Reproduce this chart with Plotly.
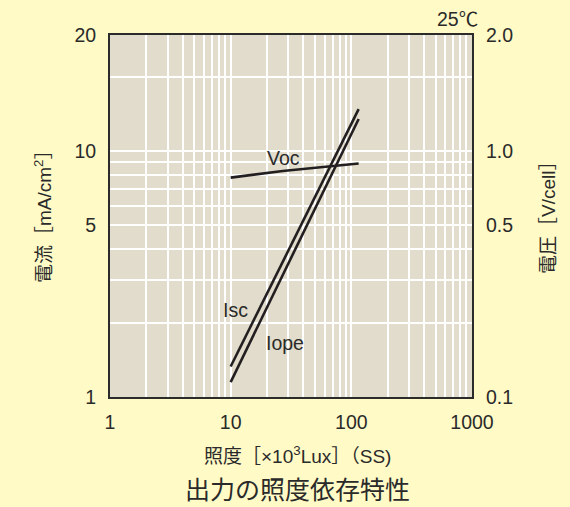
import plotly.graph_objects as go

# ---- data ----
illum_isc = [10, 115]
isc = [1.33, 14.8]
illum_iope = [10, 115]
iope = [1.15, 13.5]
illum_voc = [10, 27, 115]
voc = [0.78, 0.83, 0.89]

x_tickvals = [1, 2, 3, 4, 5, 6, 7, 8, 9,
              10, 20, 30, 40, 50, 60, 70, 80, 90,
              100, 200, 300, 400, 500, 600, 700, 800, 900, 1000]
x_ticktext = ["1"] + [""] * 8 + ["10"] + [""] * 8 + ["100"] + [""] * 8 + ["1000"]

y_tickvals = [1, 2, 3, 4, 5, 6, 7, 8, 9, 10, 20, 29.65]
y_ticktext = ["1", "", "", "", "5", "", "", "", "", "10", "", "20"]

y2_tickvals = [0.1, 0.5, 1.0, 2.965]
y2_ticktext = ["0.1", "0.5", "1.0", "2.0"]

FONT = "Liberation Sans, Arial, Noto Sans CJK JP"
TXT = "#2a2a2a"
LINE = "#231f20"
TICK_SIZE = 19.5

fig = go.Figure()
fig.add_trace(go.Scatter(x=illum_isc, y=isc, mode="lines",
                         line=dict(color=LINE, width=2.6), showlegend=False, hoverinfo="skip"))
fig.add_trace(go.Scatter(x=illum_iope, y=iope, mode="lines",
                         line=dict(color=LINE, width=2.6), showlegend=False, hoverinfo="skip"))
fig.add_trace(go.Scatter(x=illum_voc, y=voc, mode="lines", yaxis="y2",
                         line=dict(color=LINE, width=2.6), showlegend=False, hoverinfo="skip"))

fig.update_layout(
    width=570, height=507,
    margin=dict(l=110, r=98, t=35, b=110),
    paper_bgcolor="#fffac6",
    plot_bgcolor="#e1dccb",
    font=dict(family=FONT, size=TICK_SIZE, color=TXT),
    xaxis=dict(type="log", range=[0, 3], tickvals=x_tickvals, ticktext=x_ticktext,
               showgrid=True, gridcolor="#ffffff", gridwidth=1.5,
               showline=True, mirror=True, linecolor="#2b2b2b", linewidth=2,
               ticks="", ticklabelstandoff=7, zeroline=False),
    yaxis=dict(type="log", range=[0, 1.472], tickvals=y_tickvals, ticktext=y_ticktext,
               showgrid=True, gridcolor="#ffffff", gridwidth=1.5,
               showline=True, mirror=True, linecolor="#2b2b2b", linewidth=2,
               ticks="", ticklabelstandoff=8, zeroline=False),
    yaxis2=dict(type="log", range=[-1, 0.472], overlaying="y", side="right",
                tickvals=y2_tickvals, ticktext=y2_ticktext, showgrid=False,
                showline=False, ticks="", ticklabelstandoff=13, zeroline=False),
)


def paper_xy(px, py):
    # convert pixel coords to paper coords of the plot area
    return (px - 110) / 362, (397 - py) / 362


def add_text(text, px, py, size, angle=0):
    x, y = paper_xy(px, py)
    fig.add_annotation(text=text, x=x, y=y, xref="paper", yref="paper",
                       showarrow=False, xanchor="center", yanchor="middle",
                       textangle=angle,
                       font=dict(size=size, color=TXT, family=FONT))


add_text("Voc", 283, 158, TICK_SIZE)
add_text("Isc", 235, 310, TICK_SIZE)
add_text("Iope", 285, 343, TICK_SIZE)
add_text("25℃", 457, 19, TICK_SIZE)
add_text("照度［×10<sup>3</sup>Lux］（SS)", 297, 455, 19)
add_text("出力の照度依存特性", 297, 490, 25)
add_text("電流［mA/cm<sup>2</sup>］", 43, 212, 19, -90)
add_text("電圧［V/cell］", 548, 213, 19, -90)

fig.write_html("out.html", config={"displayModeBar": False},
               post_script="document.body.style.margin='0';")
